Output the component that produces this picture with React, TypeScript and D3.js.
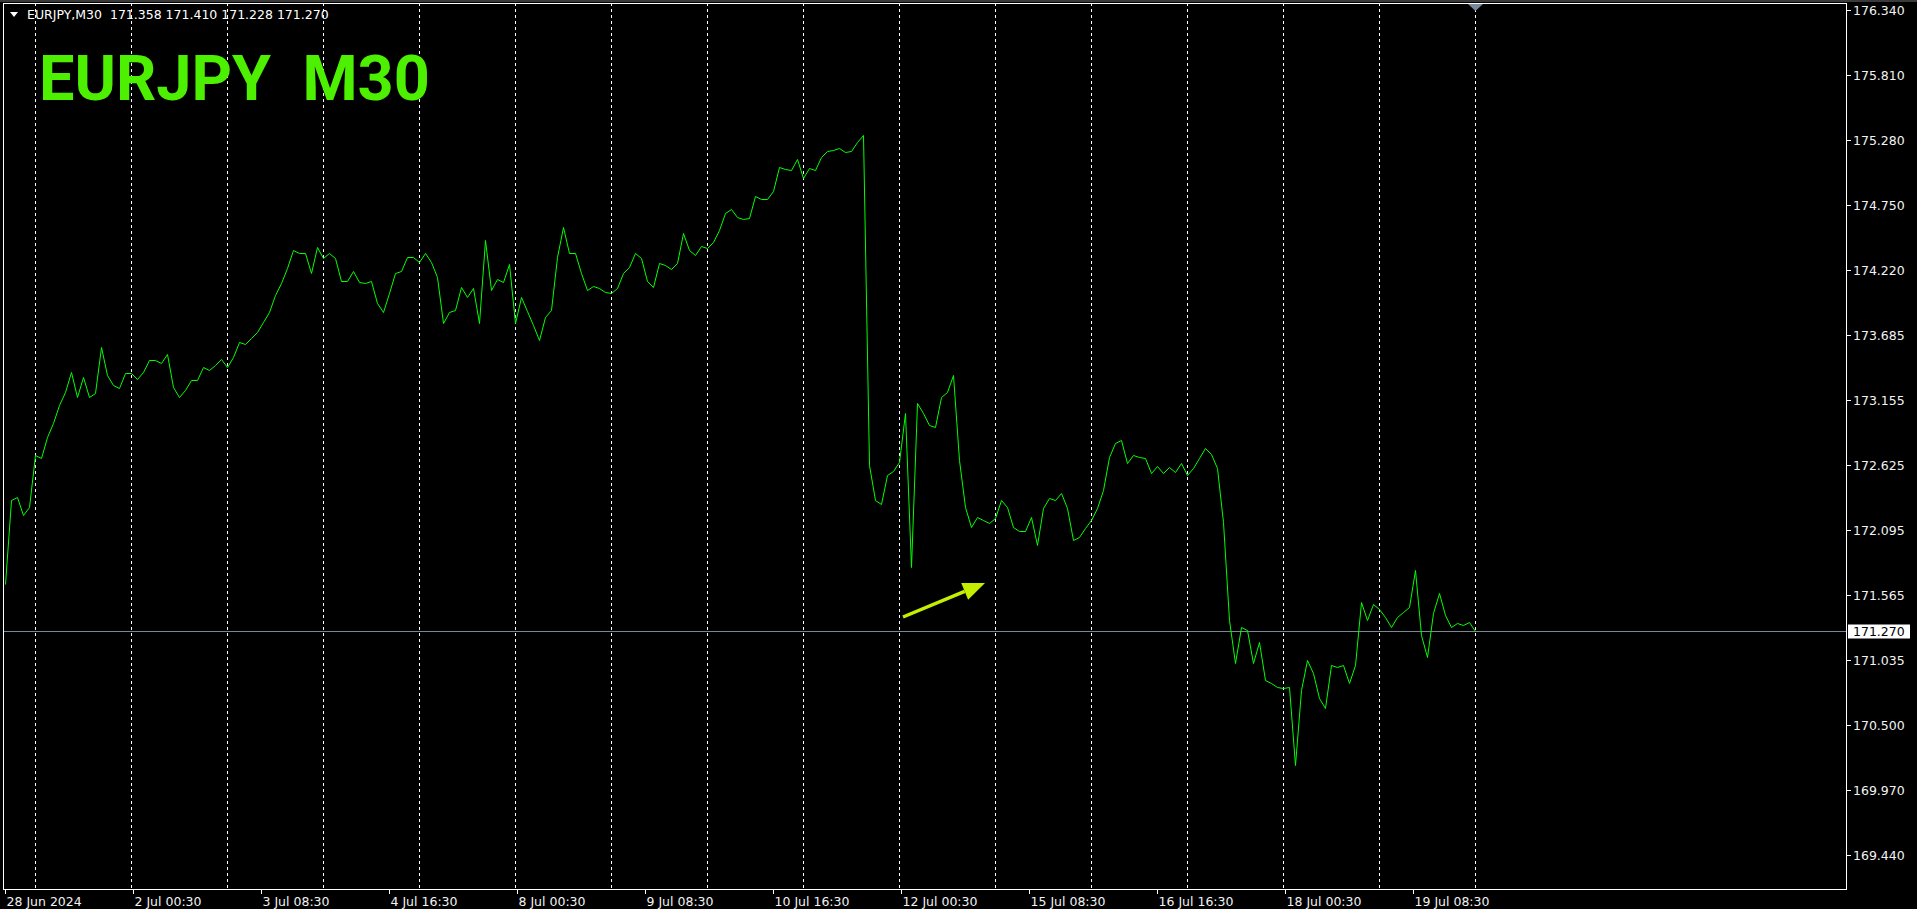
import React, { useEffect } from 'react';
import * as d3 from 'd3';

const SYMBOL = 'EURJPY';
const PERIOD = 'M30';
const OHLC = ['171.358', '171.410', '171.228', '171.270'];
const LAST_PRICE = 171.27;
const LAST_PRICE_LABEL = '171.270';

const PRICE_TICKS = [176.34, 175.81, 175.28, 174.75, 174.22, 173.685, 173.155, 172.625, 172.095, 171.565, 171.035, 170.5, 169.97, 169.44];
const PRICE_TICK_LABELS = ['176.340', '175.810', '175.280', '174.750', '174.220', '173.685', '173.155', '172.625', '172.095', '171.565', '171.035', '170.500', '169.970', '169.440'];

const TIME_LABELS = ['28 Jun 2024', '2 Jul 00:30', '3 Jul 08:30', '4 Jul 16:30', '8 Jul 00:30', '9 Jul 08:30', '10 Jul 16:30', '12 Jul 00:30', '15 Jul 08:30', '16 Jul 16:30', '18 Jul 00:30', '19 Jul 08:30'];
const BARS_PER_LABEL = 64;
const FIRST_DAY_BAR = 15;
const BARS_PER_DAY = 48;
const DAY_COUNT = 16;
const LAST_BAR = 735;
const BARS_PER_SAMPLE = 3;

// close prices, one every 3 M30 bars (1.5 h)
const PRICES = [
  171.653, 172.339, 172.363, 172.216, 172.282, 172.706, 172.682, 172.853, 172.968, 173.115,
  173.221, 173.384, 173.180, 173.343, 173.180, 173.213, 173.588, 173.360, 173.278, 173.253,
  173.376, 173.376, 173.327, 173.384, 173.482, 173.482, 173.458, 173.531, 173.262, 173.180,
  173.237, 173.319, 173.319, 173.425, 173.400, 173.441, 173.490, 173.425, 173.507, 173.629,
  173.613, 173.662, 173.711, 173.792, 173.874, 174.013, 174.111, 174.233, 174.380, 174.356,
  174.356, 174.192, 174.405, 174.315, 174.356, 174.315, 174.127, 174.127, 174.209, 174.119,
  174.111, 174.127, 173.947, 173.874, 174.029, 174.192, 174.209, 174.323, 174.323, 174.282,
  174.356, 174.282, 174.160, 173.784, 173.874, 173.890, 174.078, 173.996, 174.070, 173.784,
  174.462, 174.054, 174.143, 174.119, 174.266, 173.784, 173.996, 173.882, 173.768, 173.645,
  173.833, 173.890, 174.323, 174.568, 174.356, 174.356, 174.192, 174.054, 174.086, 174.070,
  174.037, 174.029, 174.070, 174.192, 174.241, 174.356, 174.315, 174.127, 174.078, 174.274,
  174.258, 174.225, 174.274, 174.519, 174.380, 174.339, 174.413, 174.397, 174.446, 174.544,
  174.682, 174.715, 174.650, 174.633, 174.642, 174.821, 174.797, 174.797, 174.862, 175.058,
  175.042, 175.034, 175.123, 174.968, 175.050, 175.034, 175.140, 175.189, 175.197, 175.213,
  175.181, 175.189, 175.262, 175.319, 172.625, 172.339, 172.306, 172.543, 172.576, 172.649,
  173.049, 171.792, 173.131, 173.049, 172.951, 172.935, 173.180, 173.221, 173.360, 172.665,
  172.282, 172.118, 172.200, 172.176, 172.151, 172.192, 172.339, 172.282, 172.118, 172.086,
  172.086, 172.200, 171.971, 172.273, 172.355, 172.339, 172.396, 172.273, 172.012, 172.037,
  172.110, 172.176, 172.273, 172.420, 172.690, 172.804, 172.829, 172.641, 172.706, 172.690,
  172.682, 172.559, 172.616, 172.559, 172.608, 172.567, 172.641, 172.543, 172.600, 172.682,
  172.763, 172.714, 172.600, 172.159, 171.359, 171.008, 171.302, 171.277, 171.008, 171.179,
  170.869, 170.845, 170.812, 170.804, 170.812, 170.175, 170.787, 171.032, 170.926, 170.722,
  170.640, 170.991, 170.975, 170.991, 170.845, 170.991, 171.506, 171.359, 171.490, 171.449,
  171.383, 171.302, 171.383, 171.424, 171.465, 171.767, 171.236, 171.057, 171.416, 171.579,
  171.400, 171.302, 171.334, 171.318, 171.343, 171.270,
];

export default function App() {
  useEffect(() => {
    document.body.style.margin = '0';
    document.body.style.background = '#000';
    document.body.style.overflow = 'hidden';
  }, []);

  const W = 1917;
  const H = 909;
  const frame = { left: 3, top: 3, right: 1846, bottom: 889 };

  const x = d3.scaleLinear().domain([0, LAST_BAR]).range([5, 1475]);
  const y = d3.scaleLinear().domain([169.44, 176.34]).range([855, 10]);

  const line = d3
    .line<number>()
    .x((_, i) => Math.round(x(i * BARS_PER_SAMPLE)) + 0.5)
    .y((d) => Math.round(y(d)) + 0.5);

  const dayBars = d3.range(DAY_COUNT).map((j) => FIRST_DAY_BAR + j * BARS_PER_DAY);
  const axisFont = "'DejaVu Sans', sans-serif";
  const lastY = Math.round(y(LAST_PRICE)) + 0.5;

  // arrow annotation
  const a0 = [903, 617];
  const a1 = [985, 583];
  const ang = Math.atan2(a1[1] - a0[1], a1[0] - a0[0]);
  const headLen = 22;
  const headW = 9;
  const hb = [a1[0] - headLen * Math.cos(ang), a1[1] - headLen * Math.sin(ang)];
  const head = [
    a1,
    [hb[0] + headW * Math.sin(ang), hb[1] - headW * Math.cos(ang)],
    [hb[0] - headW * Math.sin(ang), hb[1] + headW * Math.cos(ang)],
  ];

  return (
    <svg width={W} height={H} style={{ display: 'block', background: '#000' }}>
      <rect x={0} y={0} width={W} height={H} fill="#000" />
      <rect x={0} y={0} width={W} height={2} fill="#3a3a3a" />
      {/* day grid */}
      {dayBars.map((b) => (
        <line
          key={b}
          x1={Math.round(x(b)) + 0.5}
          x2={Math.round(x(b)) + 0.5}
          y1={frame.top}
          y2={frame.bottom}
          stroke="#ffffff"
          strokeWidth={1}
          strokeDasharray="3,3"
        />
      ))}
      {/* last price line */}
      <line x1={frame.left} x2={frame.right} y1={lastY} y2={lastY} stroke="#778899" strokeWidth={1} />
      {/* price line */}
      <path d={line(PRICES) || ''} fill="none" stroke="#00ff00" strokeWidth={1} />
      {/* frame */}
      <rect
        x={frame.left + 0.5}
        y={frame.top + 0.5}
        width={frame.right - frame.left}
        height={frame.bottom - frame.top}
        fill="none"
        stroke="#ffffff"
        strokeWidth={1}
      />
      {/* shift marker */}
      <polygon points={`${x(LAST_BAR) - 7},4 ${x(LAST_BAR) + 8},4 ${x(LAST_BAR) + 0.5},11`} fill="#778899" />
      {/* right axis */}
      {PRICE_TICKS.map((p, i) => {
        const yy = Math.round(y(p)) + 0.5;
        return (
          <g key={p}>
            <line x1={frame.right + 1} x2={frame.right + 5} y1={yy} y2={yy} stroke="#ffffff" />
            <text x={1853} y={yy + 4.5} fill="#f2f2f2" fontFamily={axisFont} fontSize={12.5}>
              {PRICE_TICK_LABELS[i]}
            </text>
          </g>
        );
      })}
      <rect x={1848} y={lastY - 7} width={62} height={14} fill="#ffffff" />
      <text x={1853} y={lastY + 4.5} fill="#000000" fontFamily={axisFont} fontSize={12.5}>
        {LAST_PRICE_LABEL}
      </text>
      {/* bottom axis */}
      {TIME_LABELS.map((t, i) => {
        const xx = Math.round(x(i * BARS_PER_LABEL)) + 0.5;
        return (
          <g key={t}>
            <line x1={xx} x2={xx} y1={frame.bottom + 1} y2={frame.bottom + 5} stroke="#ffffff" />
            <text x={xx + 1} y={906} fill="#f2f2f2" fontFamily={axisFont} fontSize={12.5}>
              {t}
            </text>
          </g>
        );
      })}
      {/* header */}
      <polygon points="10,12 18,12 14,17" fill="#ffffff" />
      <text x={27} y={19} fill="#ffffff" fontFamily={axisFont} fontSize={12.5} style={{ whiteSpace: 'pre' }}>
        {`${SYMBOL},${PERIOD}  ${OHLC.join(' ')}`}
      </text>
      {/* title */}
      <text x={39} y={100} fill="#4cf000" fontFamily="Roboto, sans-serif" fontWeight={700} fontSize={63} style={{ whiteSpace: 'pre' }}>
        {`${SYMBOL}  ${PERIOD}`}
      </text>
      {/* arrow */}
      <line x1={a0[0]} y1={a0[1]} x2={hb[0]} y2={hb[1]} stroke="#c4f000" strokeWidth={3.5} />
      <polygon points={head.map((p) => p.join(',')).join(' ')} fill="#c4f000" />
    </svg>
  );
}
